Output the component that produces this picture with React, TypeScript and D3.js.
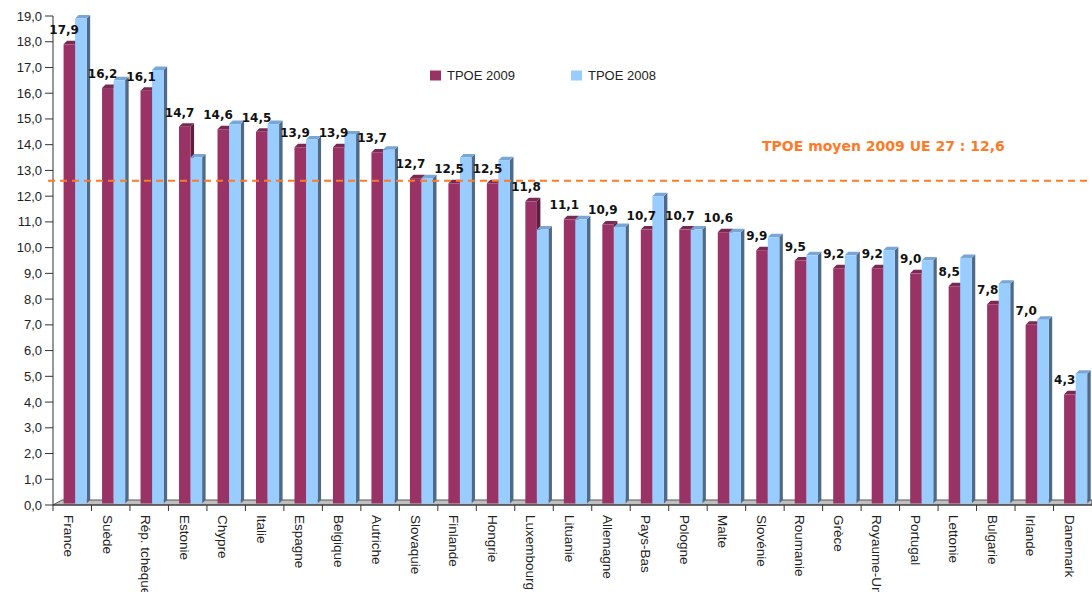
import React from "react";
import * as d3 from "d3";

const categories = [
  "France", "Suède", "Rép. tchèque", "Estonie", "Chypre", "Italie", "Espagne",
  "Belgique", "Autriche", "Slovaquie", "Finlande", "Hongrie", "Luxembourg",
  "Lituanie", "Allemagne", "Pays-Bas", "Pologne", "Malte", "Slovénie",
  "Roumanie", "Grèce", "Royaume-Uni", "Portugal", "Lettonie", "Bulgarie",
  "Irlande", "Danemark",
];
const tpoe2009 = [
  17.9, 16.2, 16.1, 14.7, 14.6, 14.5, 13.9, 13.9, 13.7, 12.7, 12.5, 12.5, 11.8,
  11.1, 10.9, 10.7, 10.7, 10.6, 9.9, 9.5, 9.2, 9.2, 9.0, 8.5, 7.8, 7.0, 4.3,
];
const tpoe2008 = [
  18.9, 16.5, 16.9, 13.5, 14.8, 14.8, 14.2, 14.4, 13.8, 12.7, 13.5, 13.4, 10.7,
  11.1, 10.8, 12.0, 10.7, 10.6, 10.4, 9.7, 9.7, 9.9, 9.5, 9.6, 8.6, 7.2, 5.1,
];
const yTicks = d3.range(0, 20, 1);
const average2009 = 12.6;
const seriesNames = ["TPOE 2009", "TPOE 2008"];

const W = 1092;
const H = 592;
const X0 = 53;
const Y0 = 505;
const YTOP = 16;
const DX = 3.5;
const DY = 3.5;

const colors = {
  a: { front: "#993366", side: "#5c1f3e", top: "#7a2a52" },
  b: { front: "#99ccff", side: "#4d6a88", top: "#78a6d6" },
};

const fmt = (v: number) => d3.format(".1f")(v).replace(".", ",");

function Bar({ x, w, yTop, yBase, c }: { x: number; w: number; yTop: number; yBase: number; c: { front: string; side: string; top: string } }) {
  const side = `M${x + w},${yTop} L${x + w + DX},${yTop - DY} L${x + w + DX},${yBase - DY} L${x + w},${yBase} Z`;
  const top = `M${x},${yTop} L${x + DX},${yTop - DY} L${x + w + DX},${yTop - DY} L${x + w},${yTop} Z`;
  return (
    <g>
      <path d={side} fill={c.side} />
      <path d={top} fill={c.top} />
      <rect x={x} y={yTop} width={w} height={yBase - yTop} fill={c.front} />
    </g>
  );
}

export default function App() {
  React.useEffect(() => {
    document.body.style.margin = "0";
  }, []);
  const x = d3.scaleBand<string>().domain(categories).range([X0, W]).padding(0);
  const y = d3.scaleLinear().domain([0, 19]).range([Y0, YTOP]);
  const bw = x.bandwidth();
  const off = bw * 0.275;
  const barW = bw * 0.3;
  const yBase = y(0) - 1.5;
  const axisFont = "'Liberation Sans', Arial, sans-serif";
  const boldFont = "'DejaVu Sans', Verdana, sans-serif";

  return (
    <div style={{ position: "absolute", left: 0, top: 0 }}>
      <svg width={W} height={H} style={{ display: "block", background: "#fff" }}>
        {/* floor */}
        <path
          d={`M${X0},${Y0} L${X0 + 9},${Y0 - 5} L${W},${Y0 - 5} L${W},${Y0} Z`}
          fill="#c0c0c0"
          stroke="#555"
          strokeWidth={1}
        />
        {/* y axis */}
        <line x1={X0} x2={X0} y1={Y0} y2={y(19)} stroke="#333" strokeWidth={1} />
        {yTicks.map((t) => (
          <g key={t}>
            <line x1={X0 - 8} x2={X0} y1={y(t)} y2={y(t)} stroke="#333" />
            <text
              x={X0 - 11}
              y={y(t)}
              dy="0.35em"
              textAnchor="end"
              fontFamily={axisFont}
              fontSize={13}
              fill="#222"
            >
              {fmt(t)}
            </text>
          </g>
        ))}
        {/* x axis ticks */}
        {categories.map((c) => (
          <line key={"t" + c} x1={x(c)!} x2={x(c)!} y1={Y0} y2={Y0 + 6} stroke="#333" />
        ))}
        <line x1={X0} x2={W} y1={Y0} y2={Y0} stroke="#333" />
        {/* bars */}
        {categories.map((c, i) => {
          const bx = x(c)! + off;
          return (
            <g key={"b" + c}>
              <Bar x={bx} w={barW} yTop={y(tpoe2009[i])} yBase={yBase} c={colors.a} />
              <Bar x={bx + barW} w={barW} yTop={y(tpoe2008[i])} yBase={yBase} c={colors.b} />
            </g>
          );
        })}
        {/* average line */}
        <line
          x1={X0 - 5}
          x2={W}
          y1={y(average2009)}
          y2={y(average2009)}
          stroke="#ff7a26"
          strokeWidth={2}
          strokeDasharray="7 5"
        />
        <text
          x={762}
          y={151}
          fontFamily={boldFont}
          fontWeight="bold"
          fontSize={14}
          fill="#ff7a26"
        >
          {`TPOE moyen 2009 UE 27 : ${fmt(average2009)}`}
        </text>
        {/* value labels */}
        {categories.map((c, i) => (
          <text
            key={"v" + c}
            x={x(c)! + bw * 0.29}
            y={y(tpoe2009[i]) - 10}
            textAnchor="middle"
            fontFamily={boldFont}
            fontWeight="bold"
            fontSize={12}
            fill="#111"
          >
            {fmt(tpoe2009[i])}
          </text>
        ))}
        {/* category labels */}
        {categories.map((c) => {
          const cx = x(c)! + bw / 2 - 3.5;
          return (
            <text
              key={"c" + c}
              transform={`translate(${cx},515) rotate(90)`}
              dominantBaseline="central"
              fontFamily={axisFont}
              fontSize={13.5}
              fill="#222"
            >
              {c}
            </text>
          );
        })}
        {/* legend */}
        {seriesNames.map((s, i) => {
          const lx = i === 0 ? 430 : 571;
          return (
            <g key={s}>
              <rect x={lx} y={70.5} width={11} height={10} fill={i === 0 ? colors.a.front : colors.b.front} />
              <text x={lx + 17} y={80} fontFamily={axisFont} fontSize={13} fill="#222">
                {s}
              </text>
            </g>
          );
        })}
      </svg>
    </div>
  );
}
